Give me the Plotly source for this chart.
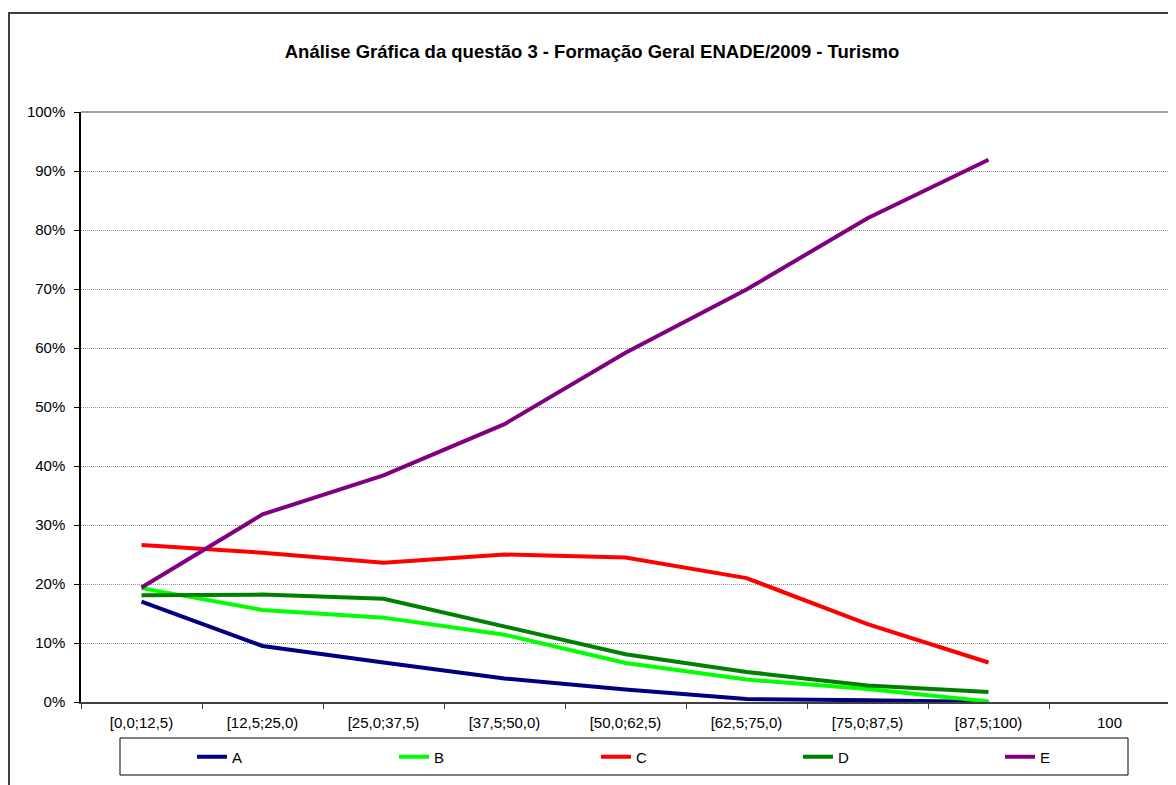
import plotly.graph_objects as go

categories = ["[0,0;12,5)", "[12,5;25,0)", "[25,0;37,5)", "[37,5;50,0)",
              "[50,0;62,5)", "[62,5;75,0)", "[75,0;87,5)", "[87,5;100)", "100"]
data_categories = categories[:8]

series_A = [17.0, 9.5, 6.7, 4.0, 2.1, 0.5, 0.3, 0.0]
series_B = [19.3, 15.6, 14.3, 11.4, 6.6, 3.8, 2.2, 0.1]
series_C = [26.6, 25.3, 23.6, 25.0, 24.5, 21.0, 13.2, 6.7]
series_D = [18.1, 18.2, 17.5, 12.8, 8.1, 5.1, 2.8, 1.7]
series_E = [19.4, 31.8, 38.4, 47.1, 59.2, 69.9, 82.0, 91.9]

names = ["A", "B", "C", "D", "E"]
values = [series_A, series_B, series_C, series_D, series_E]
colors = ["#000080", "#00FF00", "#FF0000", "#008000", "#800080"]

title_text = "Análise Gráfica da questão 3 - Formação Geral ENADE/2009 - Turismo"

# page offset caused by default body margin
OFF = 8
W, H = 1176 - OFF, 785 - OFF
# plot area in page pixels
L, R, T, B = 81, 1170, 112, 702
L, R, T, B = L - OFF, R - OFF, T - OFF, B - OFF
pw, ph = R - L, B - T


def px_x(x):
    return (x - OFF - L) / pw


def px_y(y):
    return (B - (y - OFF)) / ph


fig = go.Figure()
for i, (n, v, c) in enumerate(zip(names, values, colors)):
    fig.add_trace(go.Scatter(
        x=data_categories, y=[val / 100 for val in v], name=n, mode="lines",
        line=dict(color=c, width=4),
        legendwidth=157 if i < 4 else 20,
    ))

fig.update_layout(
    width=W, height=H,
    margin=dict(l=L, r=W - R, t=T, b=H - B, pad=0),
    paper_bgcolor="white", plot_bgcolor="white",
    font=dict(family="Liberation Sans, Arial, sans-serif", size=15, color="black"),
    title=dict(text="<b>" + title_text + "</b>", x=(592 - OFF) / W, xanchor="center",
               y=1 - (52 - OFF) / H, yanchor="middle",
               font=dict(size=18.5, color="black")),
    showlegend=True,
    legend=dict(orientation="h", x=px_x(192), xanchor="left",
                y=px_y(757), yanchor="middle",
                bgcolor="rgba(0,0,0,0)", borderwidth=0,
                font=dict(size=15), traceorder="normal",
                itemwidth=30),
    xaxis=dict(
        type="category", categoryorder="array", categoryarray=categories,
        range=[-0.5, 8.5], tickson="boundaries",
        ticks="outside", ticklen=5, tickcolor="#404040",
        showline=True, linecolor="#404040", linewidth=1.5,
        showgrid=False, zeroline=False, fixedrange=True,
        tickfont=dict(size=15), ticklabelstandoff=6,
    ),
    yaxis=dict(
        range=[0, 1.0], tickformat=".0%", dtick=0.1,
        ticks="outside", ticklen=5, tickcolor="black",
        showline=True, linecolor="black", linewidth=1.5,
        showgrid=True, gridcolor="#909090", griddash="1px,1px", gridwidth=1,
        zeroline=False, tickfont=dict(size=15), ticklabelstandoff=6,
    ),
    shapes=[
        # plot area top and right border
        dict(type="line", xref="paper", yref="paper", x0=0, x1=1, y0=1, y1=1,
             line=dict(color="#808080", width=1.5)),
        dict(type="line", xref="paper", yref="paper", x0=1, x1=1, y0=0, y1=1,
             line=dict(color="#808080", width=1.5)),
        # outer chart box
        dict(type="rect", xref="paper", yref="paper",
             x0=px_x(9), x1=px_x(1200), y0=px_y(810), y1=px_y(13),
             line=dict(color="#404040", width=2), layer="below"),
        # legend box
        dict(type="rect", xref="paper", yref="paper",
             x0=px_x(120), x1=px_x(1128), y0=px_y(775), y1=px_y(738),
             line=dict(color="black", width=1)),
    ],
)

fig.write_html("out.html")
